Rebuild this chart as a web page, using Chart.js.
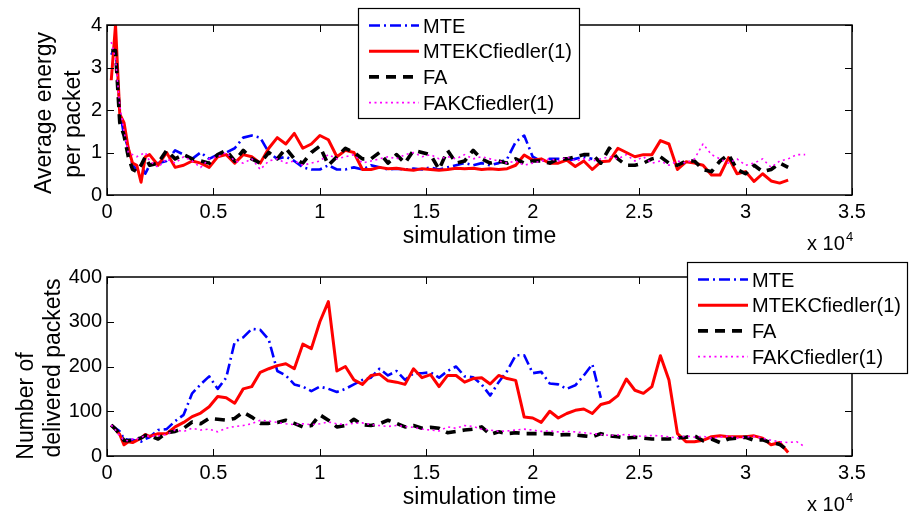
<!DOCTYPE html>
<html lang="en">
<head>
<meta charset="UTF-8">
<title>Energy and delivered packets vs simulation time</title>
<script src="https://cdn.jsdelivr.net/npm/chart.js"></script>
<style>
    body { margin: 0; background: #fff; }
    .panel { position: absolute; left: 0; width: 909px; }
    #energyPanel { top: 0; height: 260px; }
    #packetPanel { top: 260px; height: 261px; }
</style>
</head>
<body>
<div class="panel" id="energyPanel"><canvas id="energyChart"></canvas></div>
<div class="panel" id="packetPanel"><canvas id="packetChart"></canvas></div>
<script>
// ---- data ----
const seriesNames = ['MTE', 'MTEKCfiedler(1)', 'FA', 'FAKCfiedler(1)'];

const simTime = [
    200, 400, 600, 800, 1000, 1200, 1400, 1600, 1800, 2000,
    2400, 2800, 3200, 3600, 4000, 4400, 4800, 5200, 5600, 6000,
    6400, 6800, 7200, 7600, 8000, 8400, 8800, 9200, 9600, 10000,
    10400, 10800, 11200, 11600, 12000, 12400, 12800, 13200, 13600, 14000,
    14400, 14800, 15200, 15600, 16000, 16400, 16800, 17200, 17600, 18000,
    18400, 18800, 19200, 19600, 20000, 20400, 20800, 21200, 21600, 22000,
    22400, 22800, 23200, 23600, 24000, 24400, 24800, 25200, 25600, 26000,
    26400, 26800, 27200, 27600, 28000, 28400, 28800, 29200, 29600, 30000,
    30400, 30800, 31200, 31600, 32000, 32400, 32800
];

const xTicks = [0, 5000, 10000, 15000, 20000, 25000, 30000, 35000];
const energyTicks = [0, 1, 2, 3, 4];
const packetTicks = [0, 100, 200, 300, 400];

// average energy per packet
const energyMTE = [
    3.3, 3.5, 2.0, 1.4, 1.1, 0.7, 0.6, 0.7, 0.5, 0.7,
    0.75, 0.8, 1.05, 0.95, 0.85, 1.0, 0.85, 0.95, 1.0, 1.1,
    1.35, 1.4, 1.35, 1.0, 0.85, 0.9, 0.8, 0.65, 0.6, 0.6,
    0.7, 0.6, 0.6, 0.65, 0.6, 0.7, 0.65, 0.6, 0.62, 0.6,
    0.62, 0.6, 0.65, 0.6, 0.65, 0.7, 0.75, 0.7, 0.75, 0.7,
    0.75, 0.85, 1.25, 1.4, 0.9, 0.8, 0.85, 0.85, 0.8, 0.85,
    0.9, 0.85, null, null, null, null, null, null, null, null,
    null, null, null, null, null, null, null, null, null, null,
    null, null, null, null, null, null, null
];
const energyMTEKC = [
    2.7, 4.0, 1.9, 1.7, 1.1, 0.75, 0.7, 0.3, 0.9, 0.95,
    0.7, 1.0, 0.65, 0.7, 0.8, 0.75, 0.65, 0.9, 0.95, 0.75,
    0.95, 0.9, 0.75, 1.1, 1.35, 1.2, 1.45, 1.1, 1.2, 1.4,
    1.3, 0.9, 1.05, 1.0, 0.6, 0.6, 0.65, 0.62, 0.63, 0.6,
    0.58, 0.62, 0.6, 0.58, 0.6, 0.63, 0.62, 0.63, 0.6, 0.62,
    0.6, 0.62, 0.7, 0.94, 0.82, 0.85, 0.75, 0.75, 0.82, 0.67,
    0.8, 0.6, 0.78, 0.8, 1.1, 1.0, 0.9, 0.95, 0.95, 1.28,
    1.2, 0.6, 0.78, 0.75, 0.7, 0.47, 0.47, 0.88, 0.5, 0.55,
    0.32, 0.5, 0.33, 0.28, 0.35, null, null
];
const energyFA = [
    3.4, 3.4, 1.7, 1.4, 0.9, 0.6, 0.55, 0.7, 0.9, 0.7,
    0.75, 1.05, 0.85, 0.95, 0.85, 0.8, 0.75, 0.95, 1.05, 0.8,
    1.05, 0.85, 0.75, 1.0, 0.85, 1.1, 0.85, 0.75, 1.0, 1.15,
    0.7, 0.9, 1.1, 1.0, 0.85, 0.85, 1.0, 0.75, 0.95, 0.75,
    1.05, 1.0, 0.95, 0.6, 1.05, 0.75, 0.8, 1.05, 0.85, 0.75,
    0.8, 0.75, 0.85, 0.75, 0.8, 0.8, 0.75, 0.85, 0.85, 0.9,
    0.95, 0.95, 0.75, 1.1, 0.85, 0.7, 0.7, 0.75, 0.85, 0.9,
    0.75, 0.7, 0.8, 0.8, 0.6, 0.55, 0.8, 0.95, 0.6, 0.5,
    0.7, 0.55, 0.6, 0.75, 0.65, null, null
];
const energyFAKC = [
    3.6, 3.2, 2.1, 1.5, 1.0, 0.95, 0.9, 0.95, 1.0, 0.8,
    0.65, 0.85, 0.75, 0.9, 0.8, 0.65, 0.85, 0.9, 1.0, 0.8,
    0.75, 0.85, 0.6, 0.8, 0.85, 0.75, 0.8, 0.7, 0.75, 0.8,
    0.95, 0.85, 0.9, 0.95, 0.75, 0.8, 0.85, 0.9, 0.85, 0.95,
    1.0, 0.9, 0.95, 0.85, 0.9, 0.85, 0.95, 0.85, 0.9, 0.85,
    0.8, 0.75, 0.8, 0.7, 0.75, 0.8, 0.85, 0.8, 0.9, 0.8,
    0.85, 0.8, 0.85, 0.9, 0.85, 0.95, 0.8, 0.9, 0.75, 0.8,
    0.7, 0.8, 0.75, 0.85, 1.2, 0.95, 0.85, 0.75, 0.85, 0.7,
    0.75, 0.85, 0.65, 0.8, 0.85, 0.95, 0.95
];

// number of delivered packets
const packetsMTE = [
    69, 62, 55, 38, 36, 36, 34, 32, 38, 42,
    58, 60, 78, 92, 140, 160, 178, 150, 175, 255,
    265, 284, 282, 260, 190, 180, 160, 155, 145, 155,
    150, 143, 150, 160, 170, 175, 195, 180, 190, 170,
    185, 185, 187, 175, 190, 200, 178, 176, 160, 135,
    165, 190, 225, 225, 185, 188, 162, 160, 150, 158,
    180, 205, 130, null, null, null, null, null, null, null,
    null, null, null, null, null, null, null, null, null, null,
    null, null, null, null, null, null, null
];
const packetsMTEKC = [
    69, 60, 48, 25, 32, 30, 35, 40, 48, 44,
    50, 50, 65, 75, 88, 96, 110, 133, 130, 118,
    150, 155, 187, 195, 202, 206, 195, 250, 240, 300,
    345, 190, 200, 170, 160, 180, 183, 168, 165, 160,
    195, 175, 182, 155, 180, 180, 165, 173, 175, 161,
    180, 173, 169, 87, 85, 75, 100, 85, 95, 102,
    105, 95, 115, 120, 135, 172, 147, 140, 155, 224,
    170, 50, 32, 32, 35, 43, 45, 43, 43, 43,
    45, 40, 25, 30, 8, null, null
];
const packetsFA = [
    69, 60, 48, 35, 34, 36, 38, 40, 46, 45,
    38, 52, 55, 62, 76, 72, 84, 82, 80, 84,
    98, 87, 73, 73, 75, 80, 73, 65, 68, 92,
    80, 65, 68, 82, 70, 68, 72, 80, 73, 65,
    68, 62, 64, 62, 52, 55, 58, 60, 65, 48,
    54, 50, 52, 50, 50, 50, 50, 47, 48, 47,
    45, 43, 50, 45, 43, 40, 42, 40, 38, 38,
    38, 40, 42, 45, 34, 38, 30, 38, 40, 42,
    35, 36, 30, 26, 12, null, null
];
const packetsFAKC = [
    69, 58, 45, 35, 34, 38, 38, 42, 45, 44,
    45, 48, 58, 55, 62, 58, 60, 54, 62, 66,
    68, 72, 80, 78, 75, 72, 70, 72, 70, 72,
    76, 72, 70, 73, 74, 70, 68, 66, 68, 66,
    64, 60, 58, 56, 65, 62, 68, 66, 60, 58,
    55, 56, 58, 60, 58, 55, 56, 54, 55, 54,
    52, 50, 48, 46, 47, 48, 45, 44, 46, 45,
    43, 40, 45, 42, 44, 40, 42, 45, 40, 42,
    44, 40, 35, 32, 30, 32, 20
];

// ---- styling ----
const FONT = '"Liberation Sans", Arial, Helvetica, sans-serif';
Chart.defaults.font.family = FONT;
Chart.defaults.color = '#000';

const lineStyles = [
    { color: '#0000ff', width: 2.6, dash: [11, 4, 2, 4] },   // MTE  -.
    { color: '#ff0000', width: 3, dash: [] },                // MTEKC solid
    { color: '#000000', width: 3.6, dash: [10, 7] },         // FA   --
    { color: '#ff00ff', width: 1.6, dash: [2, 3.5] }         // FAKC :
];

function buildDatasets(seriesList) {
    return seriesList.map((values, i) => ({
        label: seriesNames[i],
        data: values.map((v, k) => ({ x: simTime[k], y: v })),
        borderColor: lineStyles[i].color,
        borderWidth: lineStyles[i].width,
        borderDash: lineStyles[i].dash,
        borderJoinStyle: 'round',
        pointRadius: 0,
        tension: 0,
        fill: false,
        order: 4 - i          // later series drawn on top, like MATLAB
    }));
}

// box, inward ticks, axis labels and a boxed legend
const matlabFrame = {
    id: 'matlabFrame',
    afterDatasetsDraw(chart) {
        const { ctx, chartArea: a, scales } = chart;
        ctx.save();
        ctx.strokeStyle = '#000';
        ctx.lineWidth = 1;
        ctx.beginPath();
        scales.x.ticks.forEach(t => {
            const px = Math.round(scales.x.getPixelForValue(t.value)) + 0.5;
            ctx.moveTo(px, a.bottom); ctx.lineTo(px, a.bottom - 7);
            ctx.moveTo(px, a.top); ctx.lineTo(px, a.top + 7);
        });
        scales.y.ticks.forEach(t => {
            const py = Math.round(scales.y.getPixelForValue(t.value)) + 0.5;
            ctx.moveTo(a.left, py); ctx.lineTo(a.left + 7, py);
            ctx.moveTo(a.right, py); ctx.lineTo(a.right - 7, py);
        });
        ctx.stroke();
        ctx.lineWidth = 1.5;
        ctx.strokeRect(a.left, a.top, a.right - a.left, a.bottom - a.top);
        ctx.restore();
    },
    afterDraw(chart, args, opts) {
        const { ctx, chartArea: a } = chart;
        ctx.save();
        ctx.fillStyle = '#000';
        ctx.textBaseline = 'alphabetic';

        // x label
        ctx.font = '23px ' + FONT;
        ctx.textAlign = 'center';
        ctx.fillText('simulation time', (a.left + a.right) / 2, a.bottom + 48);

        // exponent
        ctx.textAlign = 'left';
        ctx.font = '20px ' + FONT;
        ctx.fillText('x 10', a.right - 45, a.bottom + 55);
        ctx.font = '13px ' + FONT;
        ctx.fillText('4', a.right - 6, a.bottom + 46);

        // y label, two lines
        ctx.font = '23px ' + FONT;
        opts.yLabel.forEach((line, i) => {
            ctx.save();
            ctx.translate(opts.yLabelX[i], opts.yLabelY[i]);
            ctx.rotate(-Math.PI / 2);
            ctx.textAlign = 'center';
            ctx.fillText(line, 0, 0);
            ctx.restore();
        });

        // legend
        const lg = opts.legend;
        ctx.fillStyle = '#fff';
        ctx.fillRect(lg.left, lg.top, lg.width, lg.height);
        ctx.strokeStyle = '#000';
        ctx.lineWidth = 1.2;
        ctx.strokeRect(lg.left + 0.5, lg.top + 0.5, lg.width, lg.height);
        chart.data.datasets.forEach((ds, i) => {
            const yy = lg.top + 17.5 + i * 25.7;
            ctx.save();
            ctx.strokeStyle = ds.borderColor;
            ctx.lineWidth = ds.borderWidth;
            ctx.setLineDash(ds.borderDash);
            ctx.beginPath();
            ctx.moveTo(lg.left + 11, yy);
            ctx.lineTo(lg.left + 61, yy);
            ctx.stroke();
            ctx.restore();
            ctx.fillStyle = '#000';
            ctx.font = '20px ' + FONT;
            ctx.textAlign = 'left';
            ctx.fillText(ds.label, lg.left + 65, yy + 7);
        });
        ctx.restore();
    }
};

function makeOptions(yMax, yStep, padTop, frameOpts) {
    return {
        responsive: true,
        maintainAspectRatio: false,
        animation: false,
        layout: { padding: { top: padTop, right: 57, left: 0, bottom: 0 } },
        plugins: { legend: { display: false }, tooltip: { enabled: false }, matlabFrame: frameOpts },
        scales: {
            x: {
                type: 'linear', min: 0, max: 35000,
                afterBuildTicks: s => { s.ticks = xTicks.map(v => ({ value: v })); },
                afterFit: s => { s.height = 65; },
                grid: { display: false, drawTicks: false },
                border: { display: false },
                ticks: { font: { size: 20 }, padding: 5, maxRotation: 0,
                         callback: v => String(v / 10000) }
            },
            y: {
                min: 0, max: yMax,
                ticks: { stepSize: yStep, font: { size: 20 }, padding: 5 },
                afterFit: s => { s.width = 107; },
                grid: { display: false, drawTicks: false },
                border: { display: false }
            }
        }
    };
}

new Chart(document.getElementById('energyChart'), {
    type: 'line',
    data: { datasets: buildDatasets([energyMTE, energyMTEKC, energyFA, energyFAKC]) },
    options: makeOptions(energyTicks[energyTicks.length - 1], energyTicks[1], 25, {
        yLabel: ['Average energy', 'per packet'],
        yLabelX: [51, 80],
        yLabelY: [113, 124],
        legend: { left: 358, top: 8, width: 221, height: 110 }
    }),
    plugins: [matlabFrame]
});

new Chart(document.getElementById('packetChart'), {
    type: 'line',
    data: { datasets: buildDatasets([packetsMTE, packetsMTEKC, packetsFA, packetsFAKC]) },
    options: makeOptions(packetTicks[packetTicks.length - 1], packetTicks[1], 16, {
        yLabel: ['Number of', 'delivered packets'],
        yLabelX: [33, 60],
        yLabelY: [146, 108],
        legend: { left: 687, top: 2, width: 220, height: 111 }
    }),
    plugins: [matlabFrame]
});
</script>
</body>
</html>
